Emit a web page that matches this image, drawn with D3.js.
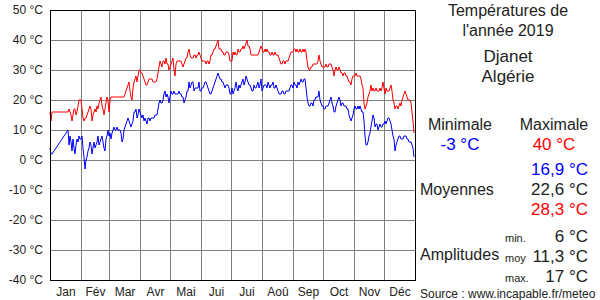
<!DOCTYPE html>
<html>
<head>
<meta charset="utf-8">
<script src="https://cdn.jsdelivr.net/npm/d3@7"></script>
<style>
  body { margin: 0; background: #fff; }
  svg { display: block; font-family: "Liberation Sans", Arial, sans-serif; }
</style>
</head>
<body>
<div id="chart"></div>
<script>
// month labels and lengths (2019)
var monthLabels = ['Jan', 'Fév', 'Mar', 'Avr', 'Mai', 'Jui', 'Jui', 'Aoû', 'Sep', 'Oct', 'Nov', 'Déc'];
var monthDays = [31, 28, 31, 30, 31, 30, 31, 31, 30, 31, 30, 31];
var yTicks = [-40, -30, -20, -10, 0, 10, 20, 30, 40, 50];

// daily maximum (null = no reading)
var tmax = [
  16,13,16,null,null,null,null,null,null,null,null,null,null,null,null,null,null,null,16,17,16,15,13,15,17,17,15,16,18,20,20,
  20,17,14,13,14,14,15,16,17,18,17,13,15,16,17,16,18,17,19,20,21,18,17,15,17,19,21,20,
  16,20,21,21,21,21,21,21,21,21,21,21,21,21,21,21,22,23,24,25,26,23,21,20,24,26,27,28,26,28,30,
  30,29,29,28,27,26,25,25,26,27,27,27,27,26,26,26,26,27,29,31,33,32,31,33,33,32,34,32,32,30,
  31,32,33,34,30,28,32,33,33,33,33,33,32,31,32,33,34,34,36,37,35,34,34,34,35,35,34,35,35,36,35,
  34,33,33,33,33,32,33,33,32,33,35,35,36,37,37,38,39,40,37,37,37,36,36,35,35,36,36,36,35,33,
  33,33,36,35,36,35,35,37,36,36,37,37,38,37,38,39,40,38,38,37,35,35,35,35,35,35,35,35,36,37,38,
  37,36,36,37,36,37,36,36,35,35,36,35,35,36,35,35,35,34,33,32,32,33,33,32,33,33,33,34,35,36,36,
  36,37,37,36,37,36,36,37,36,36,37,36,37,36,33,31,30,30,31,31,32,32,32,32,32,33,35,33,32,31,
  31,31,31,32,31,31,32,32,32,31,30,28,30,31,30,30,31,30,29,29,28,29,29,28,28,27,26,26,25,27,28,
  28,28,29,28,28,28,28,27,25,24,19,17,18,19,21,22,23,25,23,24,23,23,24,23,23,23,24,23,24,26,
  24,22,24,23,23,23,24,25,23,20,19,17,18,18,17,18,19,18,20,21,22,23,22,21,20,20,20,19,16,13,9
];

// daily minimum (null = no reading)
var tmin = [
  4,2,2,null,null,null,null,null,null,null,null,null,null,null,null,null,null,null,10,5,8,6,3,7,4,2,5,7,6,8,7,
  7,8,4,1,-3,0,1,3,4,6,5,2,4,6,4,5,6,8,5,6,7,8,6,4,3,7,8,10,
  8,9,7,9,10,11,10,10,11,10,10,10,9,6,7,10,11,12,13,14,13,12,11,12,13,16,16,17,14,15,17,
  16,15,14,15,13,14,13,12,14,14,13,14,14,14,14,15,15,15,17,19,20,19,19,20,22,23,21,22,21,19,
  21,23,22,22,23,22,22,22,22,23,22,22,21,21,19,20,21,23,23,26,24,25,26,26,23,24,24,24,24,26,23,
  23,24,24,25,26,26,25,24,23,22,22,23,24,25,26,27,28,29,28,27,27,26,26,25,24,25,25,25,24,22,
  22,24,22,23,24,26,24,23,25,24,25,26,27,25,26,28,27,26,25,25,24,23,23,25,24,24,25,26,24,25,27,
  23,24,25,25,25,24,26,25,24,25,25,26,24,24,25,24,23,22,22,22,23,23,22,22,23,23,23,23,24,25,25,
  24,26,25,25,24,26,25,26,27,26,26,27,27,24,21,19,18,18,19,19,18,20,20,21,21,21,23,20,19,18,
  18,17,17,18,18,18,19,20,21,19,18,16,16,18,19,20,21,20,18,19,19,18,18,18,17,17,15,14,13,14,15,
  17,18,17,17,18,17,18,17,16,16,13,8,5,5,6,8,9,11,13,15,14,11,12,12,10,11,12,11,11,12,
  12,13,12,13,14,14,13,12,10,8,7,3,5,6,7,8,8,7,7,7,8,8,8,7,7,6,6,6,5,4,1
];

// side panel texts
var titleLines = ['Températures de', "l'année 2019"];
var placeLines = ['Djanet', 'Algérie'];
var extremes = {min: '-3 °C', max: '40 °C'};
var averages = ['16,9 °C', '22,6 °C', '28,3 °C'];
var amplitudes = [['min.', '6 °C'], ['moy', '11,3 °C'], ['max.', '17 °C']];
var source = 'Source : www.incapable.fr/meteo';

var width = 600, height = 300,
    plotLeft = 50, plotRight = 415, plotTop = 10, plotBottom = 280;

var svg = d3.select('#chart').append('svg')
    .attr('width', width)
    .attr('height', height);

svg.append('rect').attr('width', width).attr('height', height).attr('fill', '#fff');

var x = d3.scaleLinear().domain([0, 365]).range([plotLeft, plotRight]),
    y = d3.scaleLinear().domain([-40, 50]).range([plotBottom, plotTop]);

// month boundaries
var bounds = d3.cumsum(monthDays);
var mids = monthDays.map(function (n, i) {
    return bounds[i] - n / 2;
});

var grid = svg.append('g').attr('shape-rendering', 'crispEdges');
grid.selectAll('.hgrid')
    .data(yTicks)
    .enter().append('line')
    .attr('x1', plotLeft).attr('x2', plotRight)
    .attr('y1', function (d) { return y(d); })
    .attr('y2', function (d) { return y(d); })
    .attr('stroke', '#808080');
grid.selectAll('.vgrid')
    .data(bounds.slice(0, 11))
    .enter().append('line')
    .attr('x1', function (d) { return x(d); })
    .attr('x2', function (d) { return x(d); })
    .attr('y1', plotTop).attr('y2', plotBottom)
    .attr('stroke', '#808080');

// axes
var yAxis = svg.append('g')
    .attr('transform', 'translate(' + plotLeft + ',0)')
    .call(d3.axisLeft(y).tickValues(yTicks).tickSize(0).tickPadding(7)
        .tickFormat(function (d) { return d + ' °C'; }));
yAxis.select('.domain').remove();

var xAxis = svg.append('g')
    .attr('transform', 'translate(0,' + plotBottom + ')')
    .call(d3.axisBottom(x).tickValues(mids).tickSize(0).tickPadding(7)
        .tickFormat(function (d, i) { return monthLabels[i]; }));
xAxis.select('.domain').remove();

svg.selectAll('.tick text')
    .attr('font-size', 12)
    .attr('font-family', '"Liberation Sans", Arial, sans-serif')
    .attr('fill', '#222');

// series
var line = d3.line()
    .x(function (p) { return x(p.d); })
    .y(function (p) { return y(p.v); });

function points(arr) {
    return arr.map(function (v, i) { return {d: i, v: v}; })
        .filter(function (p) { return p.v !== null; });
}

svg.append('path')
    .datum(points(tmax))
    .attr('d', line)
    .attr('fill', 'none')
    .attr('stroke', '#ff0000')
    .attr('stroke-width', 1);

svg.append('path')
    .datum(points(tmin))
    .attr('d', line)
    .attr('fill', 'none')
    .attr('stroke', '#0000ff')
    .attr('stroke-width', 1);

// frame
svg.append('rect')
    .attr('x', plotLeft).attr('y', plotTop)
    .attr('width', plotRight - plotLeft).attr('height', plotBottom - plotTop)
    .attr('fill', 'none')
    .attr('stroke', '#000')
    .attr('shape-rendering', 'crispEdges');

// side panel
var panel = svg.append('g');

function txt(s, px, py, size, anchor, color) {
    return panel.append('text')
        .attr('x', px).attr('y', py)
        .attr('font-size', size)
        .attr('text-anchor', anchor || 'start')
        .attr('fill', color || '#222')
        .text(s);
}

titleLines.forEach(function (s, i) { txt(s, 508, 16 + i * 20, 16, 'middle'); });
placeLines.forEach(function (s, i) { txt(s, 508, 62 + i * 20, 17, 'middle'); });

txt('Minimale', 460, 130, 16, 'middle');
txt('Maximale', 554, 130, 16, 'middle');
txt(extremes.min, 460, 150, 17, 'middle', '#0000ff');
txt(extremes.max, 554, 150, 17, 'middle', '#ff0000');

txt('Moyennes', 420, 195, 16);
var avgColors = ['#0000ff', '#222', '#ff0000'];
averages.forEach(function (s, i) { txt(s, 588, 175 + i * 20, 17, 'end', avgColors[i]); });

txt('Amplitudes', 420, 260, 16);
amplitudes.forEach(function (a, i) {
    txt(a[0], 505, 242 + i * 20, 11);
    txt(a[1], 588, 242 + i * 20, 17, 'end');
});

txt(source, 420, 298, 12);
</script>
</body>
</html>
